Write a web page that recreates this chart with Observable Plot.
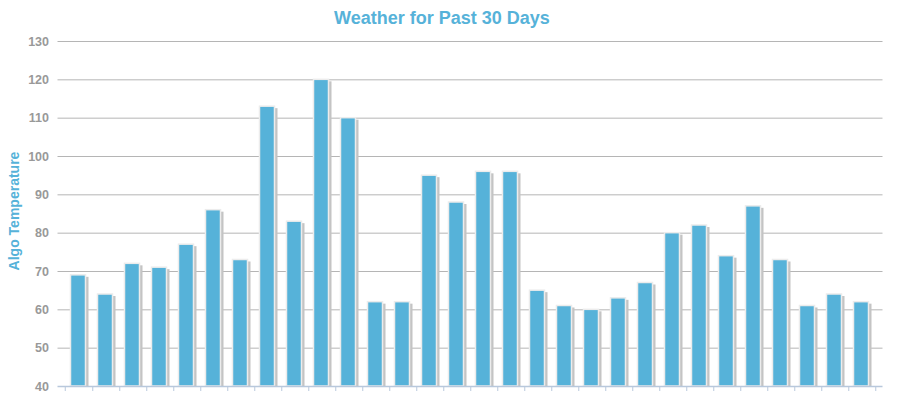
<!DOCTYPE html>
<html><head><meta charset="utf-8">
<script src="https://cdn.jsdelivr.net/npm/d3@7"></script>
<script src="https://cdn.jsdelivr.net/npm/@observablehq/plot@0.6"></script>
<style>
body{margin:0;background:#fff;font-family:"Liberation Sans",Arial,sans-serif;}
#wrap{position:relative;width:907px;height:409px;}
#title{position:absolute;left:0;top:8px;width:884px;text-align:center;font-weight:bold;font-size:18px;color:#56B2D9;z-index:2;}
#ylab{position:absolute;left:14px;top:211px;transform:translate(-50%,-50%) rotate(-90deg);white-space:nowrap;font-weight:bold;font-size:14px;color:#56B2D9;z-index:2;}
</style></head>
<body><div id="wrap"><div id="title">Weather for Past 30 Days</div><div id="ylab">Algo Temperature</div></div>
<script>
const days = d3.range(1, 31).map(d => "Day " + d);
const temps = [69,64,72,71,77,86,73,113,83,120,110,62,62,95,88,96,96,65,61,60,63,67,80,82,74,87,73,61,64,62];
const yTicks = [40,50,60,70,80,90,100,110,120,130];
const data = days.map((d, i) => ({day: d, temp: temps[i]}));
const bw = 825 / 30;
const chart = Plot.plot({
  width: 907, height: 409,
  marginLeft: 57.5, marginRight: 24.5, marginTop: 41, marginBottom: 23,
  style: {fontFamily: '"Liberation Sans", Arial, sans-serif', background: "#fff"},
  x: {domain: days, padding: 0.45, label: null, axis: null},
  y: {domain: [40, 130], label: null, axis: null},
  marks: [
    Plot.gridY(yTicks.filter(t => t > 40), {stroke: "#b5b5b5", strokeOpacity: 1}),
    Plot.axisY(yTicks, {tickSize: 0, tickPadding: 9, fontSize: 12.5, fontWeight: "bold", fill: "#999", label: null}),
    Plot.barY(data, {x: "day", y1: 40, y2: "temp", fill: "#c4c4c4", dx: 2.5, dy: 1, insetTop: 1}),
    Plot.barY(data, {x: "day", y1: 40, y2: "temp", fill: "#56B2D9", stroke: "#ececec", strokeWidth: 1.5, dx: -0.5}),
    Plot.ruleY([40], {stroke: "#b8c8dc", strokeWidth: 1.5}),
    Plot.axisX(days, {tickSize: 5, dx: bw / 2, stroke: "#b8c8dc", text: null, label: null}),
    Plot.axisX([days[0]], {tickSize: 5, dx: -bw / 2, stroke: "#b8c8dc", text: null, label: null})
  ]
});
document.getElementById("wrap").prepend(chart);
chart.style.position = "absolute"; chart.style.left = "0"; chart.style.top = "0";
</script></body></html>
